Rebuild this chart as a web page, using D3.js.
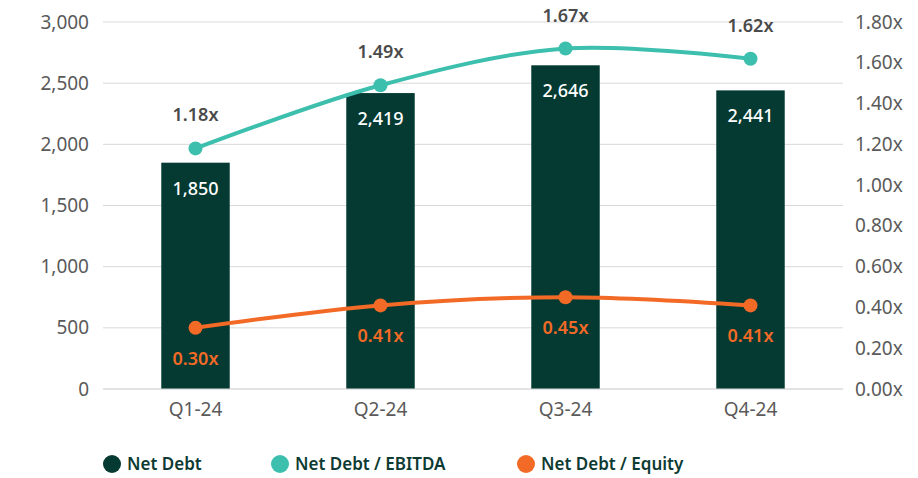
<!DOCTYPE html>
<html>
<head>
<meta charset="utf-8">
<script src="https://cdn.jsdelivr.net/npm/d3@7"></script>
<style>
  body { margin: 0; background: #fff; }
  text { font-family: "Noto Sans", sans-serif; }
</style>
</head>
<body>
<div id="chart"></div>
<script>
// data
const quarters = ["Q1-24", "Q2-24", "Q3-24", "Q4-24"];
const netDebt = [1850, 2419, 2646, 2441];
const debtEbitda = [1.18, 1.49, 1.67, 1.62];
const debtEquity = [0.30, 0.41, 0.45, 0.41];
const leftTicks = [0, 500, 1000, 1500, 2000, 2500, 3000];
const rightTicks = [0, 0.2, 0.4, 0.6, 0.8, 1.0, 1.2, 1.4, 1.6, 1.8];
const legendItems = ["Net Debt", "Net Debt / EBITDA", "Net Debt / Equity"];

const colors = {bar: "#043a32", teal: "#3dbfae", orange: "#f26a26", axis: "#5a5a5a", legend: "#0d3b33"};

let margin = {top: 22, right: 75, bottom: 89, left: 103};
let width = 918 - margin.left - margin.right,
    height = 478 - margin.top - margin.bottom;

const svg = d3.select("#chart")
  .append("svg")
    .attr("width", 918)
    .attr("height", 478)
  .append("g")
    .attr("transform", "translate(" + margin.left + "," + margin.top + ")");

let x = d3.scaleBand()
  .range([0, width])
  .domain(quarters)
  .paddingInner(0.63)
  .paddingOuter(0.315);

let xPoint = function(d) { return x(d) + x.bandwidth() / 2; };

let yLeft = d3.scaleLinear().domain([0, 3000]).range([height, 0]);
let yRight = d3.scaleLinear().domain([0, 1.8]).range([height, 0]);

// gridlines
svg.append("g")
  .selectAll("line")
  .data(leftTicks)
  .enter()
  .append("line")
    .attr("x1", 0)
    .attr("x2", width)
    .attr("y1", function(d) { return yLeft(d); })
    .attr("y2", function(d) { return yLeft(d); })
    .attr("stroke", "#d9d9d9")
    .attr("stroke-width", 1);

// left axis
const leftAxis = svg.append("g")
  .call(d3.axisLeft(yLeft).tickValues(leftTicks).tickFormat(d3.format(",")).tickSize(0).tickPadding(14));
leftAxis.select(".domain").remove();
leftAxis.selectAll("text").style("font-size", "19px").attr("fill", colors.axis);

// right axis
const rightAxis = svg.append("g")
  .attr("transform", "translate(" + width + ",0)")
  .call(d3.axisRight(yRight).tickValues(rightTicks).tickFormat(function(d) { return d3.format(".2f")(d) + "x"; }).tickSize(0).tickPadding(12));
rightAxis.select(".domain").remove();
rightAxis.selectAll("text").style("font-size", "19px").attr("fill", colors.axis);

// x axis
const xAxis = svg.append("g")
  .attr("transform", "translate(0," + height + ")")
  .call(d3.axisBottom(x).tickSize(0).tickPadding(14));
xAxis.select(".domain").remove();
xAxis.selectAll("text").style("font-size", "19px").attr("fill", colors.axis);

// bars
svg.selectAll(".bar")
  .data(quarters)
  .enter()
  .append("rect")
    .attr("class", "bar")
    .attr("x", function(d) { return x(d); })
    .attr("y", function(d, i) { return yLeft(netDebt[i]); })
    .attr("width", x.bandwidth())
    .attr("height", function(d, i) { return height - yLeft(netDebt[i]); })
    .attr("fill", colors.bar);

svg.selectAll(".barLabel")
  .data(quarters)
  .enter()
  .append("text")
    .attr("x", function(d) { return xPoint(d); })
    .attr("y", function(d, i) { return yLeft(netDebt[i]) + 32; })
    .attr("text-anchor", "middle")
    .attr("fill", "#fff")
    .style("font-size", "18px")
    .style("font-weight", "500")
    .text(function(d, i) { return d3.format(",")(netDebt[i]); });

// baseline
svg.append("line")
  .attr("x1", 0).attr("x2", width)
  .attr("y1", height).attr("y2", height)
  .attr("stroke", "#d9d9d9");

// lines
const drawLine = function(values, color, labelDy, labelColor) {
  const line = d3.line()
    .x(function(d, i) { return xPoint(quarters[i]); })
    .y(function(d) { return yRight(d); })
    .curve(d3.curveCatmullRom.alpha(0.5));

  svg.append("path")
    .datum(values)
    .attr("d", line)
    .attr("fill", "none")
    .attr("stroke", color)
    .attr("stroke-width", 4);

  svg.append("g")
    .selectAll("circle")
    .data(values)
    .enter()
    .append("circle")
      .attr("cx", function(d, i) { return xPoint(quarters[i]); })
      .attr("cy", function(d) { return yRight(d); })
      .attr("r", 7)
      .attr("fill", color);

  svg.append("g")
    .selectAll("text")
    .data(values)
    .enter()
    .append("text")
      .attr("x", function(d, i) { return xPoint(quarters[i]); })
      .attr("y", function(d) { return yRight(d) + labelDy; })
      .attr("text-anchor", "middle")
      .attr("fill", labelColor)
      .style("font-size", "18px")
      .style("font-weight", "600")
      .text(function(d) { return d3.format(".2f")(d) + "x"; });
};

drawLine(debtEquity, colors.orange, 37, colors.orange);
drawLine(debtEbitda, colors.teal, -27, "#4a4a4a");

// legend
const legendX = [112, 280, 526];
const legendColors = [colors.bar, colors.teal, colors.orange];
const legend = d3.select("svg").append("g");
legendItems.forEach(function(name, i) {
  legend.append("circle")
    .attr("cx", legendX[i])
    .attr("cy", 464)
    .attr("r", 9)
    .attr("fill", legendColors[i]);
  legend.append("text")
    .attr("x", legendX[i] + 15)
    .attr("y", 470)
    .attr("fill", colors.legend)
    .style("font-size", "17px")
    .style("font-weight", "600")
    .text(name);
});
</script>
</body>
</html>
